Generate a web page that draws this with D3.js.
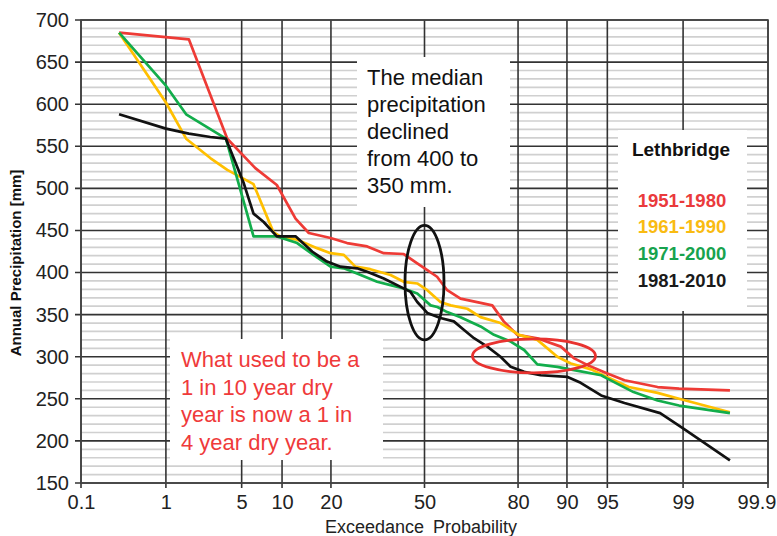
<!DOCTYPE html>
<html>
<head>
<meta charset="utf-8">
<script src="https://cdn.jsdelivr.net/npm/d3@7"></script>
<style>
  body { margin: 0; background: #fff; }
  text { font-family: "Liberation Sans", Arial, sans-serif; }
</style>
</head>
<body>
<div id="chart"></div>
<script>
const canvas = { w: 777, h: 536 };
const plot = { left: 81, right: 768, top: 20, bottom: 483 };

// exceedance probability (%) ticks and labels
const xTicks = [0.1, 1, 5, 10, 20, 50, 80, 90, 95, 99, 99.9];
const xTickLabels = ["0.1", "1", "5", "10", "20", "50", "80", "90", "95", "99", "99.9"];
const yTicks = [150, 200, 250, 300, 350, 400, 450, 500, 550, 600, 650, 700];
const yMinor = [160, 170, 180, 190, 210, 220, 230, 240, 260, 270, 280, 290, 310, 320, 330, 340,
  360, 370, 380, 390, 410, 420, 430, 440, 460, 470, 480, 490, 510, 520, 530, 540,
  560, 570, 580, 590, 610, 620, 630, 640, 660, 670, 680, 690];

const periods = ["1951-1980", "1961-1990", "1971-2000", "1981-2010"];

const p1951 = [0.3, 1.7, 3.8, 6.4, 9.2, 12.3, 14.9, 19.9, 24.3, 30.3, 35.7, 42.6, 47.4, 51, 54.5,
  58.1, 62.7, 69.3, 72.9, 76.2, 79.8, 84.5, 89, 91.1, 92.9, 95, 96.4, 98.2, 98.9, 99.7];
const v1951 = [685, 677, 559, 524, 504, 464, 447, 441, 435, 431, 423, 422, 411, 403, 395,
  379, 369, 364, 361, 342, 326, 322, 312, 298, 290, 280, 272, 264, 262, 260];

const p1961 = [0.3, 1.0, 1.6, 2.7, 3.8, 6.2, 8.7, 9.7, 12.6, 16.7, 19.9, 23.4, 26.7, 31.3, 38,
  42.6, 47.4, 51, 55.7, 59.3, 65, 69.3, 75.3, 80.2, 84.5, 88.4, 90.6, 93.3, 95.3, 96.7, 98.2, 98.9, 99.7];
const v1961 = [685, 602, 559, 536, 522, 505, 448, 443, 439, 429, 423, 421, 407, 404, 397,
  389, 387, 379, 365, 361, 357, 347, 340, 326, 320, 300, 292, 285, 274, 264, 257, 250, 234];

const p1971 = [0.3, 1.0, 1.6, 2.5, 3.7, 6.2, 9.2, 12.6, 15.9, 19.9, 23.4, 27.2, 33.5, 38, 42.6,
  47.4, 52.2, 54.6, 58.1, 62.7, 69.3, 73.4, 78.1, 81.5, 84.5, 88.4, 91.1, 94.4, 95, 97, 98.2, 98.9, 99.7];
const v1971 = [685, 622, 588, 573, 559, 443, 443, 435, 421, 407, 405, 399, 389, 385, 381,
  375, 361, 359, 353, 347, 336, 326, 318, 308, 291, 288, 284, 278, 274, 258, 248, 242, 233];

const p1981 = [0.3, 1.0, 1.7, 2.7, 3.7, 5.2, 6.2, 7.4, 9.2, 12.3, 15.6, 19, 22.5, 27.2, 30.3,
  35.7, 41.5, 45, 47.4, 51, 55.7, 60.4, 63.8, 67.2, 71.4, 75.3, 78.1, 81.5, 85.2, 90.1, 92,
  94.4, 96.4, 98.3, 99.0, 99.7];
const v1981 = [588, 571, 565, 561, 559, 506, 470, 460, 443, 443, 425, 413, 407, 405, 401,
  393, 383, 377, 365, 352, 346, 342, 332, 322, 312, 300, 288, 282, 278, 276, 269,
  254, 245, 233, 215, 177];

const seriesColors = ["#ee3b36", "#ffbf00", "#12ad4b", "#111111"];
const legendColors = ["#ea3a3c", "#f9bb12", "#17a34e", "#1a1a1a"];

const series = [
  { name: periods[0], p: p1951, v: v1951 },
  { name: periods[1], p: p1961, v: v1961 },
  { name: periods[2], p: p1971, v: v1971 },
  { name: periods[3], p: p1981, v: v1981 }
];

// inverse normal cdf (Acklam) for the probability-paper axis
function probit(p) {
  const a = [-3.969683028665376e+01, 2.209460984245205e+02, -2.759285104469687e+02,
    1.383577518672690e+02, -3.066479806614716e+01, 2.506628277459239e+00];
  const b = [-5.447609879822406e+01, 1.615858368580409e+02, -1.556989798598866e+02,
    6.680131188771972e+01, -1.328068155288572e+01];
  const c = [-7.784894002430293e-03, -3.223964580411365e-01, -2.400758277161838e+00,
    -2.549732539343734e+00, 4.374664141464968e+00, 2.938163982698783e+00];
  const d = [7.784695709041462e-03, 3.224671290700398e-01, 2.445134137142996e+00,
    3.754408661907416e+00];
  const plow = 0.02425;
  let q, r;
  if (p < plow) {
    q = Math.sqrt(-2 * Math.log(p));
    return (((((c[0] * q + c[1]) * q + c[2]) * q + c[3]) * q + c[4]) * q + c[5]) /
      ((((d[0] * q + d[1]) * q + d[2]) * q + d[3]) * q + 1);
  }
  if (p <= 1 - plow) {
    q = p - 0.5; r = q * q;
    return (((((a[0] * r + a[1]) * r + a[2]) * r + a[3]) * r + a[4]) * r + a[5]) * q /
      (((((b[0] * r + b[1]) * r + b[2]) * r + b[3]) * r + b[4]) * r + 1);
  }
  q = Math.sqrt(-2 * Math.log(1 - p));
  return -(((((c[0] * q + c[1]) * q + c[2]) * q + c[3]) * q + c[4]) * q + c[5]) /
    ((((d[0] * q + d[1]) * q + d[2]) * q + d[3]) * q + 1);
}

const xz = d3.scaleLinear()
  .domain([probit(0.001), probit(0.999)])
  .range([plot.left, plot.right]);
const x = pct => xz(probit(pct / 100));

const y = d3.scaleLinear()
  .domain([150, 700])
  .range([plot.bottom, plot.top]);

const svg = d3.select("#chart")
  .append("svg")
  .attr("width", canvas.w)
  .attr("height", canvas.h)
  .attr("viewBox", `0 0 ${canvas.w} ${canvas.h}`)
  .style("background", "#fff");

// minor horizontal grid
svg.append("g")
  .selectAll("line")
  .data(yMinor)
  .enter()
  .append("line")
  .attr("x1", plot.left)
  .attr("x2", plot.right)
  .attr("y1", d => y(d))
  .attr("y2", d => y(d))
  .attr("stroke", "#d0d0d0")
  .attr("stroke-width", 1.7);

// major horizontal grid (with tick stubs on the left)
svg.append("g")
  .selectAll("line")
  .data(yTicks)
  .enter()
  .append("line")
  .attr("x1", plot.left - 6)
  .attr("x2", plot.right)
  .attr("y1", d => y(d))
  .attr("y2", d => y(d))
  .attr("stroke", "#333")
  .attr("stroke-width", 1.6);

// vertical grid at probability ticks
svg.append("g")
  .selectAll("line")
  .data(xTicks)
  .enter()
  .append("line")
  .attr("x1", d => x(d))
  .attr("x2", d => x(d))
  .attr("y1", plot.top)
  .attr("y2", plot.bottom + 5)
  .attr("stroke", "#333")
  .attr("stroke-width", 1.6);

// frame
svg.append("rect")
  .attr("x", plot.left)
  .attr("y", plot.top)
  .attr("width", plot.right - plot.left)
  .attr("height", plot.bottom - plot.top)
  .attr("fill", "none")
  .attr("stroke", "#444")
  .attr("stroke-width", 1.6);

// axes labels via d3 axes
const yAxis = svg.append("g")
  .attr("transform", `translate(${plot.left},0)`)
  .call(d3.axisLeft(y).tickValues(yTicks).tickSize(0).tickPadding(12));
yAxis.select(".domain").remove();
yAxis.selectAll("text")
  .attr("font-family", "Liberation Sans, Arial, sans-serif")
  .attr("font-size", 20)
  .attr("fill", "#222");

const xAxisScale = d3.scaleLinear().domain(xz.domain()).range(xz.range());
const xAxis = svg.append("g")
  .attr("transform", `translate(0,${plot.bottom})`)
  .call(d3.axisBottom(xAxisScale)
    .tickValues(xTicks.map(d => probit(d / 100)))
    .tickFormat((d, i) => xTickLabels[i])
    .tickSize(0)
    .tickPadding(12));
xAxis.select(".domain").remove();
xAxis.selectAll("text")
  .attr("font-family", "Liberation Sans, Arial, sans-serif")
  .attr("font-size", 20)
  .attr("fill", "#222");
// last label sits inside the page edge, as in the original
xAxis.selectAll("text")
  .filter((d, i) => i === xTicks.length - 1)
  .attr("text-anchor", "end")
  .attr("dx", 8);

svg.append("text")
  .attr("x", 421)
  .attr("y", 533)
  .attr("text-anchor", "middle")
  .attr("font-size", 18)
  .attr("word-spacing", 4)
  .attr("fill", "#222")
  .text("Exceedance Probability");

svg.append("text")
  .attr("transform", "translate(21,263) rotate(-90)")
  .attr("text-anchor", "middle")
  .attr("font-size", 15)
  .attr("font-weight", "bold")
  .attr("fill", "#111")
  .text("Annual Precipitation [mm]");

// white annotation boxes over the grid
const boxes = [
  { x: 357, y: 57, w: 153, h: 150 },
  { x: 170, y: 339, w: 213, h: 121 },
  { x: 618, y: 130, w: 129, h: 181 }
];
svg.append("g")
  .selectAll("rect")
  .data(boxes)
  .enter()
  .append("rect")
  .attr("x", d => d.x)
  .attr("y", d => d.y)
  .attr("width", d => d.w)
  .attr("height", d => d.h)
  .attr("fill", "#fff");

// series lines
const line = d3.line()
  .x(d => x(d[0]))
  .y(d => y(d[1]));

svg.append("g")
  .selectAll("path")
  .data(series)
  .enter()
  .append("path")
  .attr("d", s => line(s.p.map((p, i) => [p, s.v[i]])))
  .attr("fill", "none")
  .attr("stroke", (s, i) => seriesColors[i])
  .attr("stroke-width", 2.7)
  .attr("stroke-linejoin", "round");

// annotation ellipses
svg.append("ellipse")
  .attr("cx", x(50))
  .attr("cy", (y(456) + y(320)) / 2)
  .attr("rx", 19.5)
  .attr("ry", (y(320) - y(456)) / 2)
  .attr("fill", "none")
  .attr("stroke", "#111")
  .attr("stroke-width", 2.8);

svg.append("ellipse")
  .attr("cx", (x(66.7) + x(93.8)) / 2)
  .attr("cy", y(301))
  .attr("rx", (x(93.8) - x(66.7)) / 2)
  .attr("ry", 17)
  .attr("fill", "none")
  .attr("stroke", "#e8322f")
  .attr("stroke-width", 2.8);

// annotation texts
const medianLines = ["The median", "precipitation", "declined", "from 400 to", "350 mm."];
svg.append("g")
  .selectAll("text")
  .data(medianLines)
  .enter()
  .append("text")
  .attr("x", 367)
  .attr("y", (d, i) => 85 + i * 27)
  .attr("font-size", 22)
  .attr("fill", "#111")
  .text(d => d);

const dryLines = ["What used to be a", "1 in 10 year dry", "year is now a 1 in", "4 year dry year."];
svg.append("g")
  .selectAll("text")
  .data(dryLines)
  .enter()
  .append("text")
  .attr("x", 181)
  .attr("y", (d, i) => 367 + i * 27.7)
  .attr("font-size", 22)
  .attr("fill", "#ef3a3a")
  .text(d => d);

// legend
svg.append("text")
  .attr("x", 681)
  .attr("y", 156)
  .attr("text-anchor", "middle")
  .attr("font-family", "Lato, sans-serif")
  .attr("font-weight", "bold")
  .attr("font-size", 19)
  .attr("fill", "#111")
  .text("Lethbridge");

svg.append("g")
  .selectAll("text")
  .data(periods)
  .enter()
  .append("text")
  .attr("x", 682)
  .attr("y", (d, i) => 206.5 + i * 26.7)
  .attr("text-anchor", "middle")
  .attr("font-family", "Lato, sans-serif")
  .attr("font-weight", "bold")
  .attr("font-size", 18.5)
  .attr("fill", (d, i) => legendColors[i])
  .text(d => d);
</script>
</body>
</html>
